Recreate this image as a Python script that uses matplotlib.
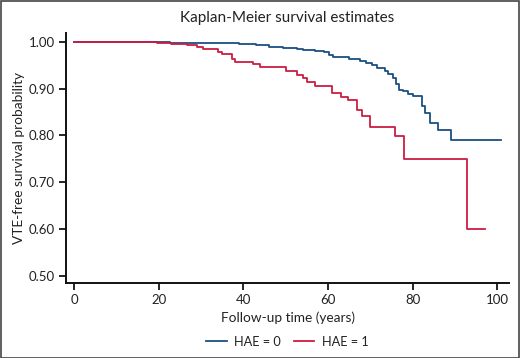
import matplotlib
matplotlib.use("Agg")
import matplotlib.pyplot as plt
from matplotlib.patches import Rectangle

# HAE = 0 (step times in years, survival after the step)
t_hae0 = [0, 22.7, 32, 39, 43, 46, 49.4, 52.6, 54, 57, 59, 60.3, 61.2, 65, 67.6,
          69, 70.5, 71.6, 73.5, 74.3, 75.4, 76, 76.8, 77.8, 79, 80, 82.2, 83,
          84.2, 86, 89, 101]
s_hae0 = [1.0, 0.998, 0.997, 0.996, 0.993, 0.990, 0.986, 0.984, 0.982, 0.980,
          0.978, 0.972, 0.967, 0.963, 0.960, 0.955, 0.950, 0.944, 0.937, 0.932,
          0.922, 0.910, 0.897, 0.894, 0.889, 0.884, 0.862, 0.848, 0.826, 0.812,
          0.791, 0.791]

# HAE = 1
t_hae1 = [0, 19.6, 23, 26.6, 29, 30.5, 34, 35, 37.3, 38, 42.3, 44, 50, 52.7,
          54, 55, 57, 61, 63, 64.8, 66.8, 68, 70, 75.9, 78, 92.9, 97]
s_hae1 = [1.0, 0.998, 0.995, 0.993, 0.988, 0.985, 0.978, 0.973, 0.963, 0.956,
          0.953, 0.946, 0.937, 0.930, 0.922, 0.915, 0.906, 0.890, 0.883, 0.876,
          0.855, 0.842, 0.819, 0.799, 0.750, 0.600, 0.600]

x_ticks = [0, 20, 40, 60, 80, 100]
y_ticks = [0.5, 0.6, 0.7, 0.8, 0.9, 1.0]

blue = '#1a4f7f'
red = '#cc1c41'
txt = '#222222'
fam = ['Lato', 'DejaVu Sans']

fig = plt.figure(figsize=(5.2, 3.58), dpi=100)
ax = fig.add_axes([0.127, 0.2095, 0.852, 0.6985])

ax.plot(t_hae0, s_hae0, drawstyle='steps-post', color=blue, lw=1.3, label='HAE = 0')
ax.plot(t_hae1, s_hae1, drawstyle='steps-post', color=red, lw=1.3, label='HAE = 1')

ax.set_xlim(-1.9, 102.8)
ax.set_ylim(0.485, 1.019)
ax.set_xticks(x_ticks)
ax.set_yticks(y_ticks)
ax.set_yticklabels(['%.2f' % v for v in y_ticks])

for s in ['top', 'right']:
    ax.spines[s].set_visible(False)
for s in ['left', 'bottom']:
    ax.spines[s].set_linewidth(1.4)
    ax.spines[s].set_color('#111111')
ax.tick_params(direction='out', length=5, width=1.2, labelsize=9.5,
               labelcolor=txt, pad=3)
for lab in ax.get_xticklabels() + ax.get_yticklabels():
    lab.set_family(fam)

ax.set_title('Kaplan-Meier survival estimates', fontsize=11, color=txt,
             family=fam, pad=8)
ax.set_xlabel('Follow-up time (years)', fontsize=9.8, color=txt,
              family=fam, labelpad=4)
ax.set_ylabel('VTE-free survival probability', fontsize=9.8, color=txt,
              family=fam, labelpad=3)

leg = ax.legend(loc='upper center', bbox_to_anchor=(0.5, -0.165), ncol=2,
                frameon=False, handlelength=1.6, handletextpad=0.6,
                columnspacing=1.0, prop={'family': fam, 'size': 9.2})
for t in leg.get_texts():
    t.set_color(txt)

fig.patches.append(Rectangle((0.001, 0.001), 0.997, 0.996, transform=fig.transFigure,
                             fill=False, edgecolor='#444444', lw=1.2))

fig.savefig('out.png', dpi=100)
